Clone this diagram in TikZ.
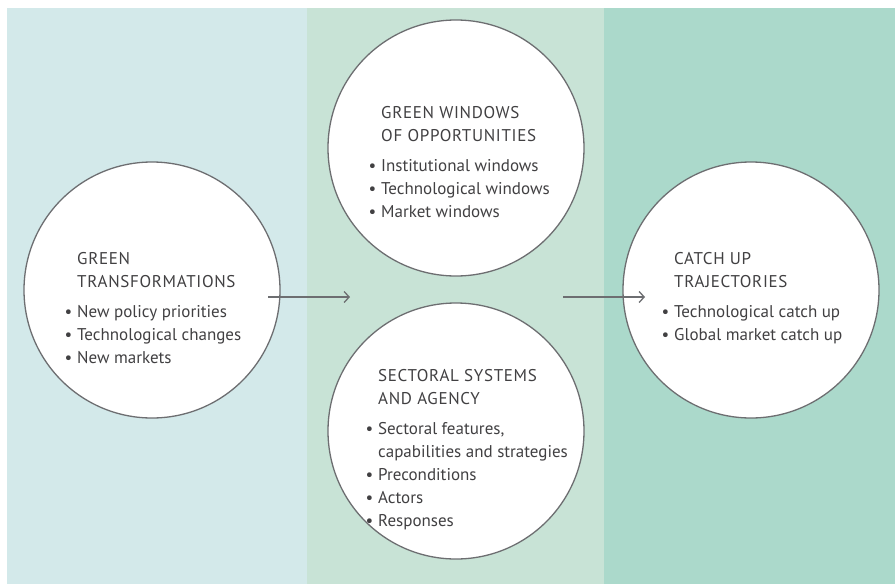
\documentclass[tikz,border=0pt]{standalone}
\usepackage{fontspec}
\setmainfont{PT Sans}
\usepackage{tikz}
\usetikzlibrary{calc, math}

\definecolor{panelA}{HTML}{D3E9EA}
\definecolor{panelB}{HTML}{C8E3D6}
\definecolor{panelC}{HTML}{ABD9CB}
\definecolor{lineGray}{HTML}{6D6E71}
\definecolor{textGray}{HTML}{414042}

\newcommand{\itm}{\makebox[0pt][r]{\textbullet\hspace{5pt}}}
\newcommand{\hd}[1]{{\addfontfeature{LetterSpace=4}#1}}

\tikzset{
    bubble/.style={circle, draw=lineGray, line width=1.3pt, fill=white, minimum size=256pt, inner sep=0pt},
    txt/.style={anchor=north west, align=left, inner sep=0pt, text=textGray,
        font=\fontsize{17}{23}\selectfont},
    flow/.style={draw=lineGray, line width=1.3pt, -{Straight Barb[length=5pt, width=11pt]}},
}
\usetikzlibrary{arrows.meta}

\begin{document}
\begin{tikzpicture}[x=1pt, y=-1pt]
    \tikzmath{%
        \xa=7; \xb=307; \xc=604; \xd=895;
        \ytop=8; \ybot=584;
        \rad=128;
    }
    \useasboundingbox (0, 0) rectangle (895, 584);
    % panels
    \fill [panelA] (\xa, \ytop) rectangle (\xb, \ybot);
    \fill [panelB] (\xb, \ytop) rectangle (\xc, \ybot);
    \fill [panelC] (\xc, \ytop) rectangle (\xd, \ybot);

    % circles
    \node [bubble] (gt) at (152, 290) {};
    \node [bubble] (gw) at (456, 148) {};
    \node [bubble] (ss) at (456, 431) {};
    \node [bubble] (ct) at (751, 290) {};

    % arrows
    \coordinate (a1) at (268, 297);
    \coordinate (b1) at (350, 297);
    \coordinate (a2) at (563, 297);
    \coordinate (b2) at (645, 297);
    \draw [flow] (a1) -- (b1);
    \draw [flow] (a2) -- (b2);

    % texts
    \node [txt] (gtText) at (77, 252) {\hd{GREEN}\\ \hd{TRANSFORMATIONS}\\[7pt]
        \itm New policy priorities\\ \itm Technological changes\\ \itm New markets};
    \node [txt] (gwText) at (381, 106) {\hd{GREEN WINDOWS}\\ \hd{OF OPPORTUNITIES}\\[7pt]
        \itm Institutional windows\\ \itm Technological windows\\ \itm Market windows};
    \node [txt] (ssText) at (378, 369) {\hd{SECTORAL SYSTEMS}\\ \hd{AND AGENCY}\\[7pt]
        \itm Sectoral features,\\ capabilities and strategies\\ \itm Preconditions\\
        \itm Actors\\ \itm Responses};
    \node [txt] (ctText) at (674, 252) {\hd{CATCH UP}\\ \hd{TRAJECTORIES}\\[7pt]
        \itm Technological catch up\\ \itm Global market catch up};
\end{tikzpicture}
\end{document}
